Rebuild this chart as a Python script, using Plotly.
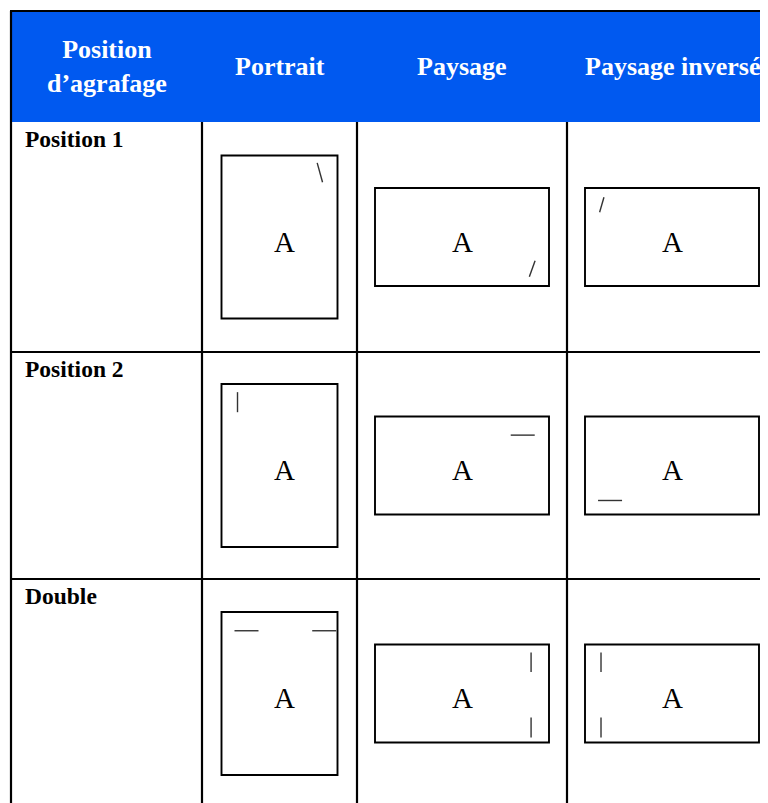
import plotly.graph_objects as go

# ---------------- data ----------------
header_labels = ["Position<br>d’agrafage", "Portrait", "Paysage", "Paysage inversé"]
row_labels = ["Position 1", "Position 2", "Double"]
page_orientation = ["portrait", "landscape", "landscape"]   # per diagram column
page_letter = "A"

# staple segments per row, per diagram column, in page-relative coords (fx0, fy0, fx1, fy1)
staples = [
    [  # Position 1
        [(0.825, 0.045, 0.871, 0.164)],
        [(0.920, 0.742, 0.887, 0.905)],
        [(0.109, 0.095, 0.084, 0.248)],
    ],
    [  # Position 2
        [(0.138, 0.050, 0.138, 0.173)],
        [(0.780, 0.190, 0.918, 0.190)],
        [(0.075, 0.857, 0.213, 0.857)],
    ],
    [  # Double
        [(0.112, 0.115, 0.319, 0.115), (0.782, 0.115, 0.989, 0.115)],
        [(0.897, 0.082, 0.897, 0.280), (0.897, 0.745, 0.897, 0.950)],
        [(0.092, 0.082, 0.092, 0.280), (0.092, 0.745, 0.092, 0.950)],
    ],
]

# ---------------- layout constants ----------------
OFF = 8  # page body margin: figure starts 8px into the window
W, H = 768 - OFF, 803 - OFF
col_edges = [11, 202, 357, 567, 777]
row_edges = [11, 122, 352, 579, 808]
page_size = {"portrait": (116, 163), "landscape": (174, 98)}
letter_pos = {"portrait": (0.545, 0.53), "landscape": (0.5, 0.55)}
HEADER_BLUE = "#0059F0"
SERIF = "Liberation Serif, Times New Roman, serif"

fig = go.Figure()
shapes = []
annotations = []

# header background
shapes.append(dict(type="rect", xref="x", yref="y", x0=col_edges[0], x1=900,
                   y0=row_edges[0], y1=row_edges[1], fillcolor=HEADER_BLUE,
                   line=dict(width=0), layer="below"))

line_style = dict(color="black", width=2.2)
# top border
shapes.append(dict(type="line", xref="x", yref="y", x0=col_edges[0] - 1, x1=900,
                   y0=row_edges[0], y1=row_edges[0], line=line_style))
# left border
shapes.append(dict(type="line", xref="x", yref="y", x0=col_edges[0], x1=col_edges[0],
                   y0=row_edges[0], y1=900, line=line_style))
# internal vertical lines (below header)
for xe in col_edges[1:]:
    shapes.append(dict(type="line", xref="x", yref="y", x0=xe, x1=xe,
                       y0=row_edges[1], y1=900, line=line_style))
# horizontal row lines (between body rows)
for ye in row_edges[2:-1]:
    shapes.append(dict(type="line", xref="x", yref="y", x0=col_edges[0], x1=900,
                       y0=ye, y1=ye, line=line_style))

# header labels
for i, lab in enumerate(header_labels):
    cx = (col_edges[i] + col_edges[i + 1]) / 2
    cy = (row_edges[0] + row_edges[1]) / 2
    annotations.append(dict(x=cx, y=cy, xref="x", yref="y", text=lab, showarrow=False,
                            xanchor="center", yanchor="middle", align="center",
                            font=dict(family=SERIF, size=26, color="white", weight="bold")))

# body
for r, rlab in enumerate(row_labels):
    top, bot = row_edges[r + 1], row_edges[r + 2]
    annotations.append(dict(x=col_edges[0] + 12, y=top + 2, xref="x", yref="y", text=rlab,
                            showarrow=False, xanchor="left", yanchor="top", align="left",
                            font=dict(family=SERIF, size=23.5, color="black", weight="bold")))
    cy = (top + bot) / 2
    for c, orient in enumerate(page_orientation):
        left, right = col_edges[c + 1], col_edges[c + 2]
        cx = (left + right) / 2
        pw, ph = page_size[orient]
        x0, y0 = cx - pw / 2, cy - ph / 2
        shapes.append(dict(type="rect", xref="x", yref="y", x0=x0, x1=x0 + pw,
                           y0=y0, y1=y0 + ph, line=dict(color="black", width=1.9),
                           fillcolor="rgba(0,0,0,0)"))
        lx, ly = letter_pos[orient]
        annotations.append(dict(x=x0 + lx * pw, y=y0 + ly * ph, xref="x", yref="y",
                                text=page_letter, showarrow=False, xanchor="center",
                                yanchor="middle",
                                font=dict(family=SERIF, size=29, color="black")))
        for (fx0, fy0, fx1, fy1) in staples[r][c]:
            shapes.append(dict(type="line", xref="x", yref="y",
                               x0=x0 + fx0 * pw, y0=y0 + fy0 * ph,
                               x1=x0 + fx1 * pw, y1=y0 + fy1 * ph,
                               line=dict(color="#333333", width=1.4)))

fig.update_layout(
    width=W, height=H,
    margin=dict(l=0, r=0, t=0, b=0),
    paper_bgcolor="white", plot_bgcolor="white",
    xaxis=dict(range=[OFF, OFF + W], visible=False, fixedrange=True),
    yaxis=dict(range=[OFF + H, OFF], visible=False, fixedrange=True),
    shapes=shapes, annotations=annotations, showlegend=False,
)

fig.write_html("out.html")
